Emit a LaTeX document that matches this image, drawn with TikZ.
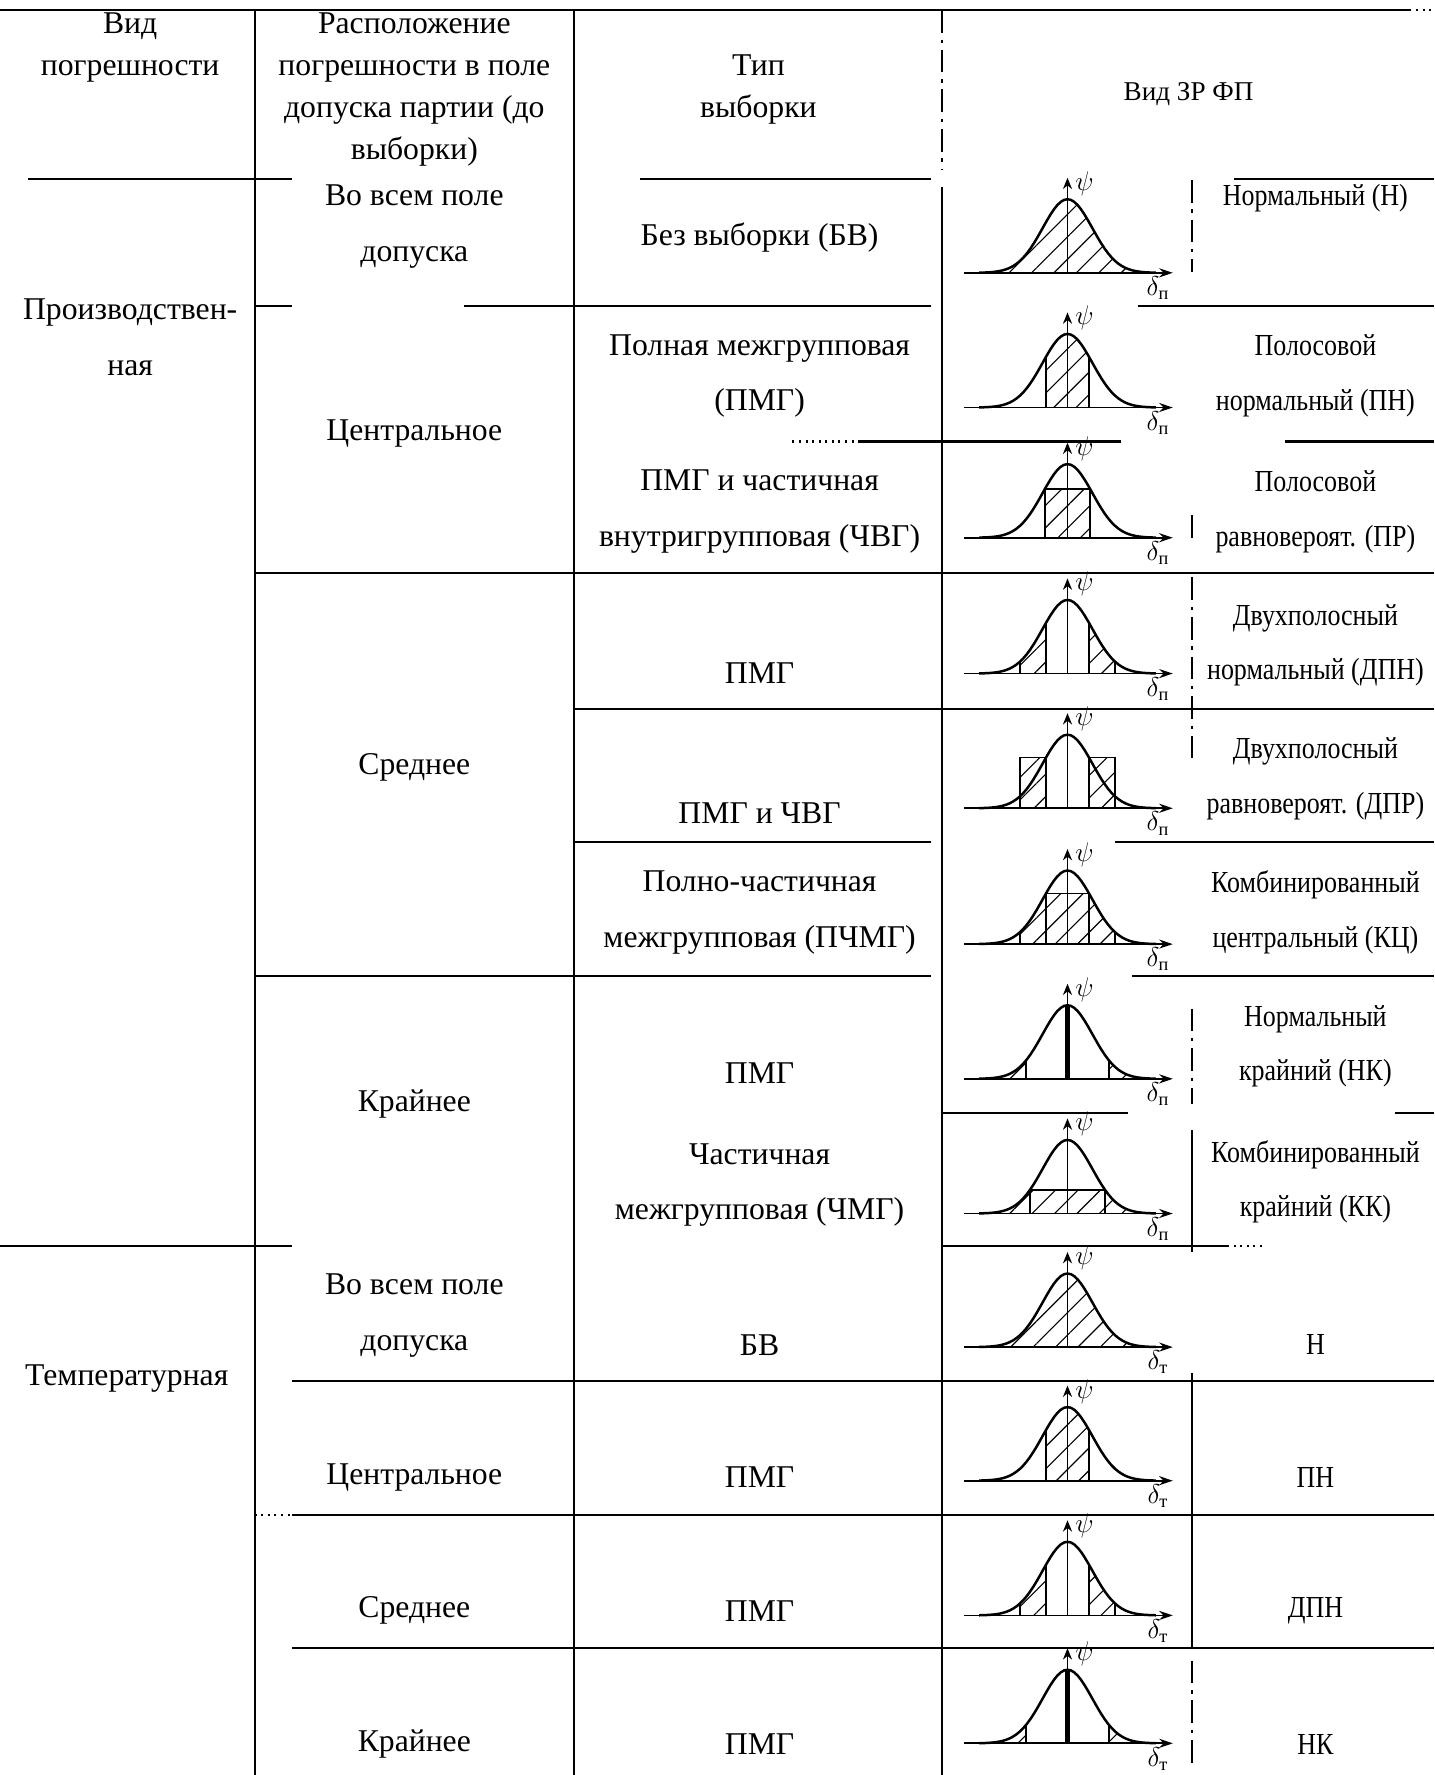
\documentclass[tikz,border=0pt]{standalone}
\usepackage{fontspec}
\usepackage{amsmath}
\setmainfont{Liberation Serif}
\newfontfamily\narrowfont[FakeStretch=0.85]{Liberation Serif}
\usetikzlibrary{arrows.meta, patterns.meta}

\begin{document}
\begin{tikzpicture}[x=0.5pt, y=0.5pt,
  declare function={bell(\t)=65*exp(-((\t)^2)/968);},
  tline/.style={line width=0.9pt},
  tdash/.style={line width=0.9pt, dash pattern=on 10pt off 3pt on 1.5pt off 3pt},
  hdr/.style={align=center, inner sep=0pt, font=\fontsize{14}{18.5}\selectfont},
  txt/.style={align=center, inner sep=0pt, font=\fontsize{14}{24.5}\selectfont},
  zrtxt/.style={align=center, inner sep=0pt, font=\narrowfont\fontsize{13.5}{24}\selectfont},
  sym/.style={inner sep=0pt, font=\fontsize{11.5}{13}\selectfont},
  ax/.style={line width=0.8pt},
  bellcurve/.style={line width=1.1pt},
  bar/.style={line width=0.8pt},
  hatch/.style={pattern={Lines[angle=45, distance=7pt, line width=0.5pt]}},
  zaxes/.pic={
    \draw[ax, -{Stealth[length=6pt, width=4pt]}] (-91,0) -- (93,0);
    \draw[ax, -{Stealth[length=5pt, width=4pt]}] (0,0) -- (0,84);
    \node[sym] at (15,79) {$\psi$};
    \node[sym, anchor=north] at (80,-3) {$\delta_{\text{#1}}$};
  },
  zcurve/.pic={
    \draw[bellcurve] plot[domain=-78:78, samples=53] (\x,{bell(\x)});
  },
  zrN/.pic={
    \fill[hatch] plot[domain=-78:78, samples=53] (\x,{bell(\x)}) -- cycle;
    \pic {zcurve};
    \pic {zaxes=#1};
  },
  zrPN/.pic={
    \fill[hatch] (-19,0) -- plot[domain=-19:19, samples=15] (\x,{bell(\x)}) -- (19,0) -- cycle;
    \draw[bar] (-19,0) -- (-19,{bell(19)}) (19,0) -- (19,{bell(19)});
    \pic {zcurve};
    \pic {zaxes=#1};
  },
  zrPR/.pic={
    \fill[hatch] (-20,0) rectangle (20,{bell(20)});
    \draw[bar] (-20,0) rectangle (20,{bell(20)});
    \pic {zcurve};
    \pic {zaxes=#1};
  },
  zrDPN/.pic={
    \fill[hatch] (-42,0) -- plot[domain=-42:-19, samples=10] (\x,{bell(\x)}) -- (-19,0) -- cycle;
    \fill[hatch] (19,0) -- plot[domain=19:42, samples=10] (\x,{bell(\x)}) -- (42,0) -- cycle;
    \draw[bar] (-19,0) -- (-19,{bell(19)}) (19,0) -- (19,{bell(19)});
    \draw[bar] (-42,0) -- (-42,{bell(42)}) (42,0) -- (42,{bell(42)});
    \pic {zcurve};
    \pic {zaxes=#1};
  },
  zrDPR/.pic={
    \fill[hatch] (-42,0) rectangle (-19,{bell(19)});
    \fill[hatch] (19,0) rectangle (42,{bell(19)});
    \draw[bar] (-42,0) rectangle (-19,{bell(19)});
    \draw[bar] (19,0) rectangle (42,{bell(19)});
    \pic {zcurve};
    \pic {zaxes=#1};
  },
  zrKC/.pic={
    \fill[hatch] (-42,0) -- plot[domain=-42:-19, samples=10] (\x,{bell(\x)})
      -- (19,{bell(19)}) -- plot[domain=19:42, samples=10] (\x,{bell(\x)}) -- (42,0) -- cycle;
    \draw[bar] (-19,0) -- (-19,{bell(19)}) -- (19,{bell(19)}) -- (19,0);
    \draw[bar] (-42,0) -- (-42,{bell(42)}) (42,0) -- (42,{bell(42)});
    \pic {zcurve};
    \pic {zaxes=#1};
  },
  zrNK/.pic={
    \fill[hatch] (-78,0) -- plot[domain=-78:-37, samples=12] (\x,{bell(\x)}) -- (-37,0) -- cycle;
    \fill[hatch] (37,0) -- plot[domain=37:78, samples=12] (\x,{bell(\x)}) -- (78,0) -- cycle;
    \draw[bar] (-37,0) -- (-37,{bell(37)}) (37,0) -- (37,{bell(37)});
    \draw[line width=1.8pt] (0,0) -- (0,65);
    \pic {zcurve};
    \pic {zaxes=#1};
  },
  zrKK/.pic={
    \fill[hatch] (-62,0) -- plot[domain=-62:-33, samples=12] (\x,{bell(\x)})
      -- (33,{bell(33)}) -- plot[domain=33:62, samples=12] (\x,{bell(\x)}) -- (62,0) -- cycle;
    \draw[bar] (-33,0) -- (-33,{bell(33)}) -- (33,{bell(33)}) -- (33,0);
    \pic {zcurve};
    \pic {zaxes=#1};
  }]
  \useasboundingbox (0,0) rectangle (1267,-1568);

  % rules of the table
  \draw[tline] (0,-9) -- (1245,-9);
  \draw[tline, dotted] (1245,-9) -- (1267,-9);
  \draw[tline] (225,-9) -- (225,-1568);
  \draw[tline] (507,-9) -- (507,-1568);
  \draw[tdash] (832,-9) -- (832,-150);
  \draw[tline] (832,-165) -- (832,-1568);
  \draw[tline] (25,-158) -- (258,-158) (565,-158) -- (822,-158) (1090,-158) -- (1267,-158);
  \draw[tline] (225,-270) -- (258,-270) (410,-270) -- (822,-270) (1005,-270) -- (1267,-270);
  \draw[tline, dotted] (700,-390) -- (760,-390);
  \draw[tline] (760,-390) -- (990,-390) (1135,-390) -- (1267,-390);
  \draw[tline] (225,-506) -- (1267,-506);
  \draw[tline] (507,-626) -- (1267,-626);
  \draw[tline] (507,-744) -- (822,-744) (985,-744) -- (1267,-744);
  \draw[tline] (225,-862) -- (822,-862) (1000,-862) -- (1267,-862);
  \draw[tline] (832,-983) -- (996,-983) (1232,-983) -- (1267,-983);
  \draw[tline] (0,-1101) -- (258,-1101) (832,-1101) -- (1084,-1101);
  \draw[tline, dotted] (1084,-1101) -- (1115,-1101);
  \draw[tline] (258,-1220) -- (1267,-1220);
  \draw[tline, dotted] (225,-1338) -- (258,-1338);
  \draw[tline] (258,-1338) -- (1267,-1338);
  \draw[tline] (258,-1456) -- (1267,-1456);
  \draw[tdash] (1053,-159) -- (1053,-240) (1053,-455) -- (1053,-480)
    (1053,-510) -- (1053,-671) (1053,-891) -- (1053,-975) (1053,-1467) -- (1053,-1557);
  \draw[tline] (1053,-998) -- (1053,-1106) (1053,-1213) -- (1053,-1456);

  % header
  \node[hdr] (hd1) at (115,-42) {Вид\\погрешности};
  \node[hdr] (hd2) at (366,-79) {Расположение\\погрешности в поле\\допуска партии (до\\выборки)};
  \node[hdr] (hd3) at (670,-79) {Тип\\выборки};
  \node[hdr, font=\fontsize{12}{14}\selectfont] (hd4) at (1050,-83) {Вид ЗР ФП};

  % kind of error
  \node[txt] (err1) at (115,-298) {Производствен-\\ная};
  \node[txt] (err2) at (112,-1218) {Температурная};

  % position in the tolerance field
  \node[txt] (pos1) at (366,-200) {Во всем поле\\допуска};
  \node[txt] (pos2) at (366,-383) {Центральное};
  \node[txt] (pos3) at (366,-678) {Среднее};
  \node[txt] (pos4) at (366,-975) {Крайнее};
  \node[txt] (pos5) at (366,-1162) {Во всем поле\\допуска};
  \node[txt] (pos6) at (366,-1305) {Центральное};
  \node[txt] (pos7) at (366,-1423) {Среднее};
  \node[txt] (pos8) at (366,-1541) {Крайнее};

  % kind of sample
  \node[txt] (smp1) at (671,-210) {Без выборки (БВ)};
  \node[txt] (smp2) at (671,-332) {Полная межгрупповая\\(ПМГ)};
  \node[txt] (smp3) at (671,-452) {ПМГ и частичная\\внутригрупповая (ЧВГ)};
  \node[txt] (smp4) at (671,-595) {ПМГ};
  \node[txt] (smp5) at (671,-718) {ПМГ и ЧВГ};
  \node[txt] (smp6) at (671,-806) {Полно-частичная\\межгрупповая (ПЧМГ)};
  \node[txt] (smp7) at (671,-948) {ПМГ};
  \node[txt] (smp8) at (671,-1047) {Частичная\\межгрупповая (ЧМГ)};
  \node[txt] (smp9) at (671,-1188) {БВ};
  \node[txt] (smp10) at (671,-1305) {ПМГ};
  \node[txt] (smp11) at (671,-1423) {ПМГ};
  \node[txt] (smp12) at (671,-1541) {ПМГ};

  % distribution graphs
  \pic (g1) at (943,-241) {zrN=п};
  \pic (g2) at (943,-360) {zrPN=п};
  \pic (g3) at (943,-475) {zrPR=п};
  \pic (g4) at (943,-595) {zrDPN=п};
  \pic (g5) at (943,-714) {zrDPR=п};
  \pic (g6) at (943,-834) {zrKC=п};
  \pic (g7) at (943,-953) {zrNK=п};
  \pic (g8) at (943,-1072) {zrKK=п};
  \pic (g9) at (943,-1190) {zrN=т};
  \pic (g10) at (943,-1308) {zrPN=т};
  \pic (g11) at (943,-1427) {zrDPN=т};
  \pic (g12) at (943,-1540) {zrNK=т};

  % kind of law
  \node[zrtxt] (zr1) at (1162,-175) {Нормальный (Н)};
  \node[zrtxt] (zr2) at (1162,-332) {Полосовой\\нормальный (ПН)};
  \node[zrtxt] (zr3) at (1162,-452) {Полосовой\\равновероят. (ПР)};
  \node[zrtxt] (zr4) at (1162,-570) {Двухполосный\\нормальный (ДПН)};
  \node[zrtxt] (zr5) at (1162,-688) {Двухполосный\\равновероят. (ДПР)};
  \node[zrtxt] (zr6) at (1162,-806) {Комбинированный\\центральный (КЦ)};
  \node[zrtxt] (zr7) at (1162,-924) {Нормальный\\крайний (НК)};
  \node[zrtxt] (zr8) at (1162,-1044) {Комбинированный\\крайний (КК)};
  \node[zrtxt] (zr9) at (1162,-1188) {Н};
  \node[zrtxt] (zr10) at (1162,-1305) {ПН};
  \node[zrtxt] (zr11) at (1162,-1423) {ДПН};
  \node[zrtxt] (zr12) at (1162,-1541) {НК};
\end{tikzpicture}
\end{document}
